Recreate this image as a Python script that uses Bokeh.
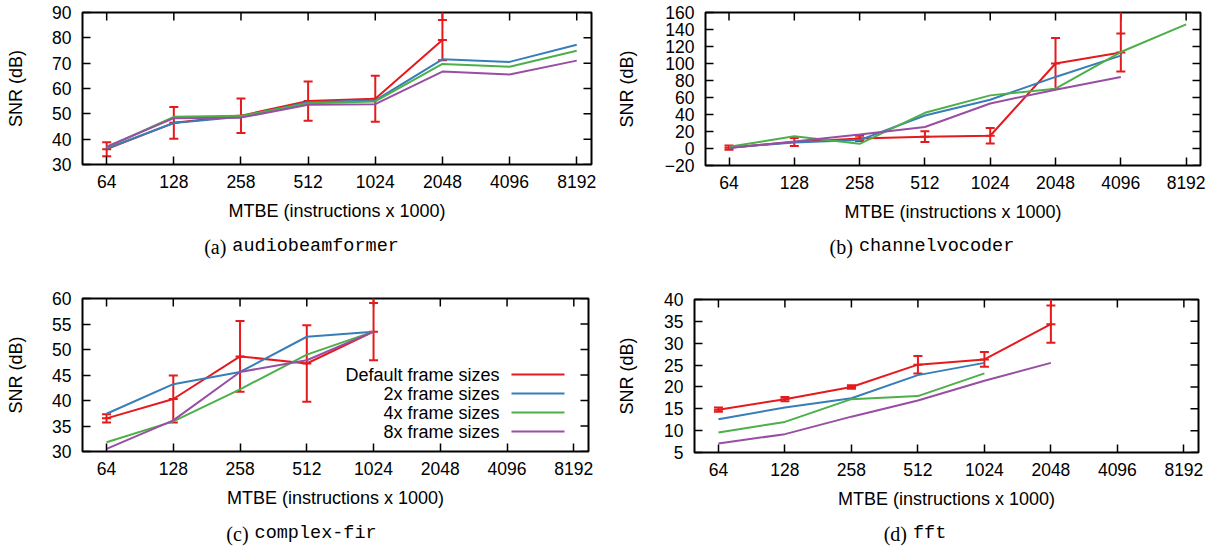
import math
from bokeh.plotting import figure
from bokeh.layouts import column, row
from bokeh.models import Range1d, FixedTicker, Label
from bokeh.core.properties import value
from bokeh.embed import file_html
from bokeh.resources import INLINE

# ---------------- data ----------------
mtbe_labels = ["64", "128", "258", "512", "1024", "2048", "4096", "8192"]
series_names = ["Default frame sizes", "2x frame sizes", "4x frame sizes", "8x frame sizes"]
y_label = "SNR (dB)"
x_label = "MTBE (instructions x 1000)"

# (a) audiobeamformer
a_default = [36.05, 46.45, 49.25, 55.05, 55.95, 79.1]
a_default_err = [2.75, 6.25, 6.85, 7.75, 9.05, 7.9]
a_default_outer = 96.0
a_2x = [36.3, 46.4, 48.8, 54.6, 55.3, 71.5, 70.5, 77.3]
a_4x = [36.8, 48.8, 49.2, 54.2, 54.9, 69.7, 68.6, 74.9]
a_8x = [37.0, 48.3, 48.5, 53.6, 53.8, 66.7, 65.5, 71.0]
a_yticks = [30, 40, 50, 60, 70, 80, 90]

# (b) channelvocoder
b_default = [1.0, 7.7, 11.9, 13.9, 15.0, 100.0, 112.9]
b_default_err = [2.5, 4.8, 3.2, 6.3, 9.1, 30.0, 22.3]
b_default_outer = 175.0
b_2x = [1.0, 7.1, 9.9, 38.8, 57.4, 84.2, 109.3]
b_4x = [2.0, 14.3, 5.5, 42.0, 62.5, 70.4, 113.5, 146.0]
b_8x = [0.5, 8.3, 16.6, 25.3, 53.0, 69.2, 84.2]
b_yticks = [-20, 0, 20, 40, 60, 80, 100, 120, 140, 160]

# (c) complex-fir
c_default = [36.5, 40.3, 48.65, 47.25, 53.5]
c_default_err = [0.8, 4.6, 6.95, 7.5, 5.6]
c_default_outer = 62.0
c_2x = [37.4, 43.2, 45.6, 52.5, 53.5]
c_4x = [31.8, 35.9, 42.2, 49.0, 53.5]
c_8x = [30.5, 36.1, 45.6, 47.9, 53.5]
c_yticks = [30, 35, 40, 45, 50, 55, 60]

# (d) fft
d_default = [14.8, 17.2, 20.0, 25.1, 26.3, 34.35]
d_default_err = [0.5, 0.5, 0.4, 2.0, 1.7, 4.25]
d_default_outer = 42.0
d_2x = [12.6, 15.3, 17.4, 22.7, 25.5]
d_4x = [9.6, 12.0, 17.2, 17.9, 23.1]
d_8x = [7.05, 9.2, 13.2, 16.9, 21.4, 25.5]
d_yticks = [5, 10, 15, 20, 25, 30, 35, 40]

# ---------------- style ----------------
RED, BLUE, GREEN, PURPLE = "#e41a1c", "#377eb8", "#4daf4a", "#984ea3"
SANS = "Liberation Sans"
SERIF = "Liberation Serif"
MONO = "Liberation Mono"
TICK_FS = "17.5px"
LAB_FS = "18px"
CAP_FS = 18.5
CAP_SERIF_FS = 20
X0, X1 = -0.36, 7.22


def build(width, height, fl, fr, ft, fb, yticks, ylab_standoff,
          default, default_err, default_outer, others, legend=False):
    y0, y1 = yticks[0], yticks[-1]
    fw, fh = fr - fl, fb - ft

    def to_data(fx, fy):
        return (X0 + fx / fw * (X1 - X0), y1 - fy / fh * (y1 - y0))

    p = figure(width=width, height=height, output_backend="svg", toolbar_location=None,
               tools="", x_range=Range1d(X0, X1), y_range=Range1d(y0, y1),
               min_border_left=fl, min_border_right=width - fr,
               min_border_top=ft, min_border_bottom=height - fb)
    p.grid.visible = False
    p.outline_line_color = "black"
    p.outline_line_width = 2
    p.outline_line_alpha = 1.0
    p.background_fill_color = "white"
    p.border_fill_color = "white"

    xax = p.xaxis[0]
    xax.ticker = FixedTicker(ticks=list(range(len(mtbe_labels))))
    xax.major_label_overrides = {i: lab for i, lab in enumerate(mtbe_labels)}
    xax.axis_label = x_label
    xax.major_label_standoff = 10
    xax.axis_label_standoff = 10

    yax = p.yaxis[0]
    yax.ticker = FixedTicker(ticks=yticks)
    yax.axis_label = y_label
    yax.major_label_standoff = 11
    yax.axis_label_standoff = ylab_standoff

    for ax in (xax, yax):
        ax.axis_line_color = None
        ax.major_tick_in = 8
        ax.major_tick_out = 0
        ax.minor_tick_in = 0
        ax.minor_tick_out = 0
        ax.major_tick_line_color = "black"
        ax.major_tick_line_width = 1.5
        ax.major_label_text_font = SANS
        ax.major_label_text_font_size = TICK_FS
        ax.major_label_text_color = "black"
        ax.axis_label_text_font = SANS
        ax.axis_label_text_font_size = LAB_FS
        ax.axis_label_text_font_style = "normal"
        ax.axis_label_text_color = "black"

    # mirrored inward ticks on top and right borders
    xt = list(range(len(mtbe_labels)))
    p.ray(x=xt, y=[y1] * len(xt), length=8, length_units="screen", angle=-math.pi / 2,
          line_color="black", line_width=1.5)
    p.ray(x=[X1] * len(yticks), y=yticks, length=8, length_units="screen", angle=math.pi,
          line_color="black", line_width=1.5)

    # default series with error bars
    idx = list(range(len(default)))
    lo = [v - e for v, e in zip(default, default_err)]
    hi = [v + e for v, e in zip(default, default_err)]
    p.line(idx, default, line_color=RED, line_width=2)
    p.segment(x0=idx, y0=lo, x1=idx, y1=hi, line_color=RED, line_width=2)
    p.segment(x0=[idx[-1]], y0=[hi[-1]], x1=[idx[-1]], y1=[default_outer],
              line_color=RED, line_width=2)
    for ys in (lo, hi, default):
        p.scatter(idx, ys, marker="dash", size=9, line_color=RED, line_width=2)

    for vals, col in others:
        p.line(list(range(len(vals))), vals, line_color=col, line_width=2)

    if legend:
        colors = [RED, BLUE, GREEN, PURPLE]
        rows_px = [76, 95, 114, 133]
        tx, _ = to_data(417, 0)
        lx0, _ = to_data(429, 0)
        lx1, _ = to_data(482, 0)
        ys = [to_data(0, r)[1] for r in rows_px]
        p.segment(x0=[lx0] * 4, y0=ys, x1=[lx1] * 4, y1=ys, line_color=colors, line_width=2)
        for lab, yy in zip(series_names, ys):
            p.add_layout(Label(x=tx, y=yy, text=lab, text_font=SANS, text_font_size=LAB_FS,
                               text_align="right", text_baseline="middle", text_color="black"))
    return p


def caption(width, height, fl, fr, letter, name, cx, cy):
    # the caption's frame is aligned with the panel frame above it (fl..fr),
    # so the x range is set to make data x equal to pixel x within the figure
    c = figure(width=width, height=height, output_backend="svg", toolbar_location=None,
               tools="", x_range=Range1d(fl, fr), y_range=Range1d(height, 0),
               x_axis_location=None, y_axis_location=None,
               min_border=0, min_border_left=fl, min_border_right=width - fr,
               min_border_top=0, min_border_bottom=0)
    c.grid.visible = False
    c.outline_line_color = None
    c.background_fill_color = "white"
    c.border_fill_color = "white"
    lw = 1.11 * CAP_SERIF_FS
    mw = 0.6 * CAP_FS * len(name)
    gap = 6
    start = cx - (lw + gap + mw) / 2
    c.text(x=[start + lw], y=[cy], text=[letter], text_font=value(SERIF),
           text_font_size=f"{CAP_SERIF_FS}px", text_align="right", text_baseline="middle",
           text_color="black")
    c.text(x=[start + lw + gap], y=[cy], text=[name], text_font=value(MONO),
           text_font_size=f"{CAP_FS}px", text_align="left", text_baseline="middle",
           text_color="black")
    return c


WL, WR = 606, 606
pa = build(WL, 228, 82, 591, 12, 164, a_yticks, 23, a_default, a_default_err, a_default_outer,
           [(a_2x, BLUE), (a_4x, GREEN), (a_8x, PURPLE)])
pb = build(WR, 228, 99, 594, 12, 165, b_yticks, 25, b_default, b_default_err, b_default_outer,
           [(b_2x, BLUE), (b_4x, GREEN), (b_8x, PURPLE)])
pc = build(WL, 249, 82, 588, 34, 187, c_yticks, 23, c_default, c_default_err, c_default_outer,
           [(c_2x, BLUE), (c_4x, GREEN), (c_8x, PURPLE)], legend=True)
pd = build(WR, 249, 88, 592, 35, 188, d_yticks, 24, d_default, d_default_err, d_default_outer,
           [(d_2x, BLUE), (d_4x, GREEN), (d_8x, PURPLE)])

ca = caption(WL, 36, 82, 591, "(a)", "audiobeamformer", 301, 18)
cb = caption(WR, 36, 99, 594, "(b)", "channelvocoder", 316, 18)
cc = caption(WL, 35, 82, 588, "(c)", "complex-fir", 301, 20)
cd = caption(WR, 35, 88, 592, "(d)", "fft", 309, 20)

layout = column(
    row(column(pa, ca), column(pb, cb)),
    row(column(pc, cc), column(pd, cd)),
)
open("out.html", "w").write(file_html(layout, INLINE))
